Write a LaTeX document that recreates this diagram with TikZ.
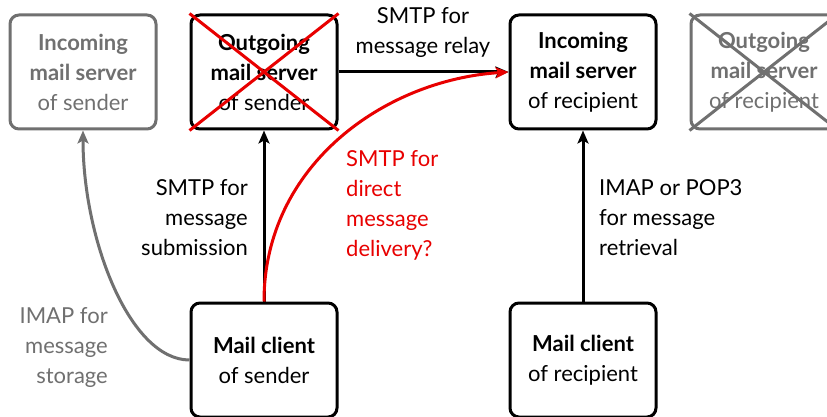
\documentclass[tikz,border=0pt]{standalone}
\usepackage{fontspec}
\setmainfont{Lato}
\usetikzlibrary{arrows.meta}
\definecolor{fadegray}{RGB}{112,112,112}
\definecolor{xred}{RGB}{232,0,0}
\begin{document}
\begin{tikzpicture}[x=1pt,y=-1pt,
  txt/.style={font=\fontsize{22}{30}\selectfont},
  box/.style={txt, draw, line width=3pt, rounded corners=9pt,
    minimum width=146pt, minimum height=114pt, align=center, inner sep=0pt},
  fadebox/.style={box, draw=fadegray, text=fadegray},
  lbl/.style={txt, inner sep=0pt},
  link/.style={line width=3pt, -{Stealth[length=13pt,width=11pt,inset=3pt]}},
  cross/.style={line width=3pt}
]
\path[use as bounding box, clip] (0,0) rectangle (827,417);
\fill[white] (0,0) rectangle (827,417);

% servers
\node[fadebox] (inS)  at (83,72)  {\textbf{Incoming}\\\textbf{mail server}\\of sender};
\node[box]     (outS) at (264,72) {\textbf{Outgoing}\\\textbf{mail server}\\of sender};
\node[box]     (inR)  at (583,72) {\textbf{Incoming}\\\textbf{mail server}\\of recipient};
\node[fadebox] (outR) at (764,72) {\textbf{Outgoing}\\\textbf{mail server}\\of recipient};

% clients
\node[box] (cS) at (264,360) {\textbf{Mail client}\\of sender};
\node[box] (cR) at (583,360) {\textbf{Mail client}\\of recipient};

% struck-out servers
\draw[cross, xred] (outS.north west) -- (outS.south east);
\draw[cross, xred] (outS.south west) -- (outS.north east);
\draw[cross, fadegray] (outR.north west) -- (outR.south east);
\draw[cross, fadegray] (outR.south west) -- (outR.north east);

% connections
\draw[link] (outS.east) -- (inR.west);
\draw[link] (cS.north) -- (outS.south);
\draw[link] (cR.north) -- (inR.south);
\draw[link, fadegray] (cS.west) .. controls (130,360) and (83,240) .. (inS.south);
\draw[link, xred] (cS.north) .. controls (264,165) and (385,80) .. (inR.west);

% labels
\node[lbl, align=center] (lRelay) at (423,33) {SMTP for\\message relay};
\node[lbl, align=right, anchor=east] (lSub) at (248,218) {SMTP for\\message\\submission};
\node[lbl, align=left, anchor=west, text=xred] (lDirect) at (346,205) {SMTP for\\direct\\message\\delivery?};
\node[lbl, align=right, anchor=east, text=fadegray] (lStore) at (108,348) {IMAP for\\message\\storage};
\node[lbl, align=left, anchor=west] (lRetr) at (599,218) {IMAP or POP3\\for message\\retrieval};
\end{tikzpicture}
\end{document}
